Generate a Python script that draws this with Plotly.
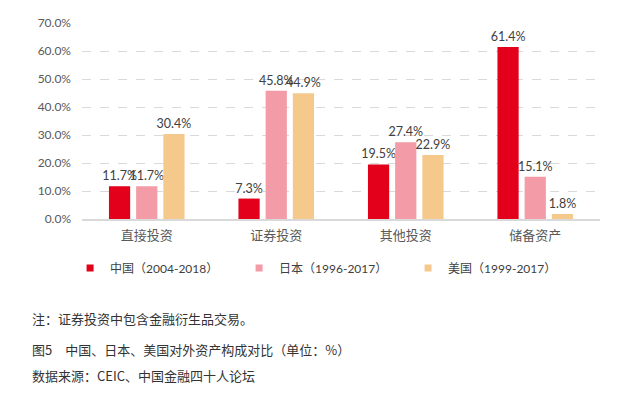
import plotly.graph_objects as go

categories = ["直接投资", "证券投资", "其他投资", "储备资产"]
series_names = ["中国（2004-2018）", "日本（1996-2017）", "美国（1999-2017）"]
china = [11.7, 7.3, 19.5, 61.4]
japan = [11.7, 45.8, 27.4, 15.1]
usa = [30.4, 44.9, 22.9, 1.8]
colors = ["#E2001A", "#F39BA6", "#F5C98B"]
y_ticks = [0, 10, 20, 30, 40, 50, 60, 70]

note_lines = [
    "注：证券投资中包含金融衍生品交易。",
    "图5　中国、日本、美国对外资产构成对比（单位：%）",
    "数据来源：CEIC、中国金融四十人论坛",
]

FONT = "Lato, 'Noto Sans CJK SC', sans-serif"
CJK = "'Noto Sans CJK SC', sans-serif"

fig = go.Figure()
for name, vals, col in zip(series_names, [china, japan, usa], colors):
    fig.add_trace(go.Bar(
        x=categories, y=vals, name=name, marker_color=col,
        marker_line_width=0,
        texttemplate="%{y:.1f}%", textposition="outside",
        textfont=dict(family=FONT, size=12.5, color="#404040"),
        cliponaxis=False, constraintext="none", showlegend=False,
    ))
    # legend proxy with small square marker
    fig.add_trace(go.Scatter(
        x=[None], y=[None], mode="markers", name=name,
        marker=dict(symbol="square", size=7, color=col),
    ))

fig.update_layout(
    width=622, height=398,
    margin=dict(l=82, r=22, t=23, b=179),
    paper_bgcolor="white", plot_bgcolor="white",
    barmode="group", bargap=0.37, bargroupgap=0.22,
    font=dict(family=FONT, color="#595959"),
    legend=dict(orientation="h", x=-0.023, xanchor="left", y=-0.25, yanchor="middle",
                font=dict(family=FONT, size=12, color="#404040"),
                entrywidth=124, entrywidthmode="pixels", itemwidth=30,
                bgcolor="rgba(0,0,0,0)"),
)
fig.update_xaxes(
    showline=True, linecolor="#D9D9D9", linewidth=1.5, ticks="",
    tickfont=dict(family=CJK, size=13, color="#595959"),
    ticklabelstandoff=4, automargin=False,
)
fig.update_yaxes(
    range=[0, 70], tickvals=y_ticks, ticktext=[f"{v:.1f}%" for v in y_ticks],
    showgrid=True, gridcolor="#D9D9D9", griddash="dash", gridwidth=1,
    zeroline=False, showline=False,
    tickfont=dict(family=FONT, size=12, color="#595959"),
    ticklabelstandoff=10, automargin=False,
)

ys = [318, 349, 375]
for txt, yp in zip(note_lines, ys):
    fig.add_annotation(
        text=txt, xref="paper", yref="paper", xanchor="left", yanchor="middle",
        x=-52 / 518, y=(398 - 179 - yp) / 196, showarrow=False,
        font=dict(family=CJK, size=13, color="#333333"),
    )

fig.write_html("out.html", config={"displayModeBar": False},
               post_script="document.body.style.margin='0px';")
